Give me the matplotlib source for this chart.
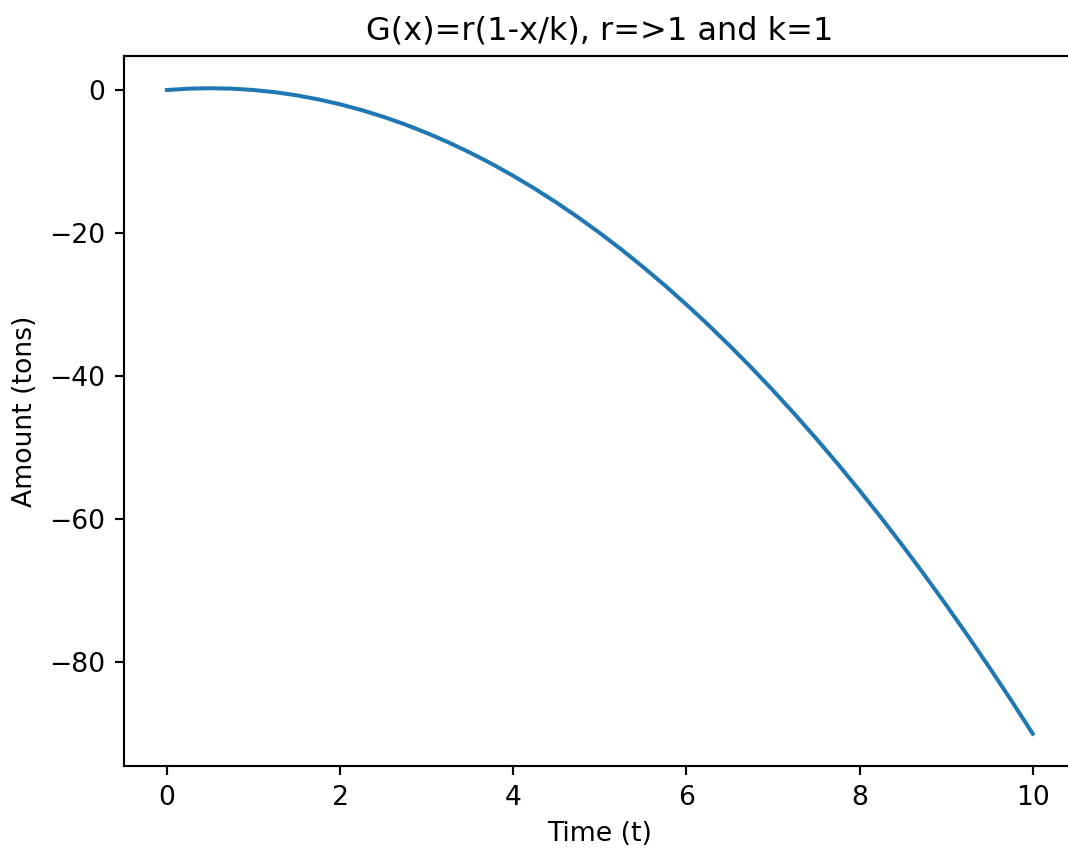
from matplotlib import pyplot as plt

# time steps and amount read at each step
time_t = [0, 0.25, 0.5, 0.75, 1, 1.25, 1.5, 1.75, 2, 2.25, 2.5,
          2.75, 3, 3.25, 3.5, 3.75, 4, 4.25, 4.5, 4.75, 5,
          5.25, 5.5, 5.75, 6, 6.25, 6.5, 6.75, 7, 7.25, 7.5,
          7.75, 8, 8.25, 8.5, 8.75, 9, 9.25, 9.5, 9.75, 10]
amount = [0, 0.19, 0.25, 0.19, 0, -0.31, -0.75, -1.31, -2, -2.81, -3.75,
          -4.81, -6, -7.31, -8.75, -10.31, -12, -13.81, -15.75, -17.81, -20,
          -22.31, -24.75, -27.31, -30, -32.81, -35.75, -38.81, -42, -45.31, -48.75,
          -52.31, -56, -59.81, -63.75, -67.81, -72, -76.31, -80.75, -85.31, -90]

fig = plt.figure(figsize=(1068 / 192, 849 / 192), dpi=192)
ax = fig.add_axes([0.1158, 0.0978, 0.8917, 0.8363])

ax.plot(time_t, amount)
ax.set_title("G(x)=r(1-x/k), r=>1 and k=1")
ax.set_xlabel("Time (t)")
ax.set_ylabel("Amount (tons)")
# right edge of the frame falls outside the saved area
ax.spines["right"].set_visible(False)

fig.savefig("out.png", dpi=192)
